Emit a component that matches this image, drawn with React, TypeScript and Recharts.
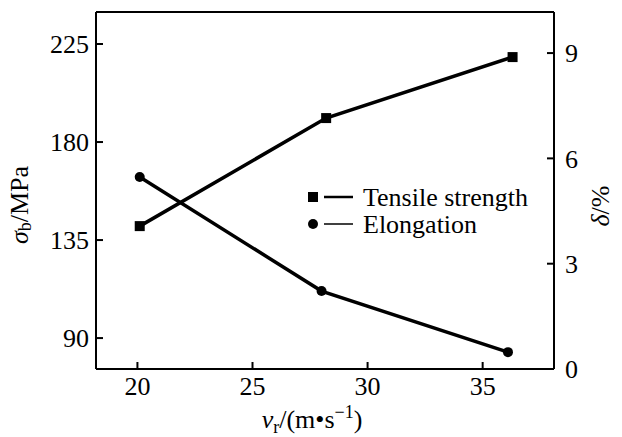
import React from 'react';
import { LineChart, Line, XAxis, YAxis, ReferenceLine, Label } from 'recharts';

const speedTensile = [20.1, 28.2, 36.3];
const tensileStrength = [141.4, 191.0, 219.0];
const speedElongation = [20.1, 28.0, 36.1];
const elongation = [5.47, 2.22, 0.48];

const xTicks = [20, 25, 30, 35];
const leftTicks = [90, 135, 180, 225];
const rightTicks = [0, 3, 6, 9];

const tensileData = speedTensile.map((v, i) => ({ v, s: tensileStrength[i] }));
const elongationData = speedElongation.map((v, i) => ({ v, d: elongation[i] }));

const FONT = '"Liberation Serif", "Times New Roman", serif';
const FS = 26;

// serif tick text, placed where recharts puts it
const SerifTick = ({ x, y, payload, textAnchor, verticalAnchor }: any) => {
  const dy = verticalAnchor === 'start' ? '0.71em' : verticalAnchor === 'end' ? '0' : '0.355em';
  return (
    <text x={x} y={y} dy={dy} textAnchor={textAnchor} fontFamily={FONT} fontSize={FS} fill="#000">
      {payload.value}
    </text>
  );
};

const SquareDot = ({ cx, cy }: any) => (
  <rect x={cx - 5} y={cy - 5} width={10} height={10} fill="#000" />
);
const RoundDot = ({ cx, cy }: any) => <circle cx={cx} cy={cy} r={5} fill="#000" />;

const LeftTitle = () => (
  <text x={19} y={205} transform="rotate(-90, 19, 205)" textAnchor="middle" dominantBaseline="central"
    fontFamily={FONT} fontSize={FS} fill="#000">
    <tspan fontStyle="italic">σ</tspan>
    <tspan fontSize={18} dy={6}>b</tspan>
    <tspan dy={-6}>/MPa</tspan>
  </text>
);

const RightTitle = () => (
  <text x={600} y={206} transform="rotate(-90, 600, 206)" textAnchor="middle" dominantBaseline="central"
    fontFamily={FONT} fontSize={FS} fill="#000">
    <tspan fontStyle="italic">δ</tspan>
    <tspan>/%</tspan>
  </text>
);

const BottomTitle = () => (
  <text x={312} y={428} textAnchor="middle" fontFamily={FONT} fontSize={FS} fill="#000">
    <tspan fontStyle="italic">v</tspan>
    <tspan fontSize={18} dy={5}>r</tspan>
    <tspan dy={-5}>/(m•s</tspan>
    <tspan fontSize={18} dy={-10}>−1</tspan>
    <tspan dy={10}>)</tspan>
  </text>
);

const LegendBox = () => (
  <div style={{ position: 'absolute', left: 305, top: 184, fontFamily: FONT, fontSize: FS, color: '#000', lineHeight: '27px' }}>
    <div style={{ display: 'flex', alignItems: 'center' }}>
      <svg width={58} height={27}>
        <rect x={3} y={8} width={10} height={10} fill="#000" />
        <line x1={19} y1={13} x2={48} y2={13} stroke="#000" strokeWidth={2.5} />
      </svg>
      <span>Tensile strength</span>
    </div>
    <div style={{ display: 'flex', alignItems: 'center' }}>
      <svg width={58} height={27}>
        <circle cx={8} cy={13} r={5} fill="#000" />
        <line x1={19} y1={13} x2={48} y2={13} stroke="#000" strokeWidth={1.5} />
      </svg>
      <span>Elongation</span>
    </div>
  </div>
);

export default function App() {
  return (
    <div style={{ position: 'absolute', left: 0, top: 0, width: 622, height: 437, background: '#fff', fontFamily: FONT }}>
      <LineChart width={622} height={437} margin={{ top: 12, right: 0, bottom: 0, left: 0 }}>
        <XAxis type="number" dataKey="v" domain={[18.2, 38.1]} ticks={xTicks} height={68}
          tick={<SerifTick />} tickSize={-7} tickMargin={15} allowDataOverflow
          axisLine={{ stroke: '#000', strokeWidth: 2 }} tickLine={{ stroke: '#000', strokeWidth: 2 }}>
          <Label content={<BottomTitle />} />
        </XAxis>
        <YAxis yAxisId="left" domain={[75.8, 239.7]} ticks={leftTicks} width={96} allowDataOverflow
          tick={<SerifTick />} tickSize={-7} tickMargin={14}
          axisLine={{ stroke: '#000', strokeWidth: 2 }} tickLine={{ stroke: '#000', strokeWidth: 2 }}>
          <Label content={<LeftTitle />} />
        </YAxis>
        <YAxis yAxisId="right" orientation="right" domain={[0, 10.17]} ticks={rightTicks} width={68} allowDataOverflow
          tick={<SerifTick />} tickSize={-7} tickMargin={18}
          axisLine={{ stroke: '#000', strokeWidth: 2 }} tickLine={{ stroke: '#000', strokeWidth: 2 }}>
          <Label content={<RightTitle />} />
        </YAxis>
        <ReferenceLine yAxisId="left" y={239.7} stroke="#000" strokeWidth={2} ifOverflow="extendDomain" />
        <Line yAxisId="left" data={tensileData} dataKey="s" name="Tensile strength" stroke="#000" strokeWidth={3.5}
          dot={<SquareDot />} activeDot={false} isAnimationActive={false} />
        <Line yAxisId="right" data={elongationData} dataKey="d" name="Elongation" stroke="#000" strokeWidth={3.5}
          dot={<RoundDot />} activeDot={false} isAnimationActive={false} />
      </LineChart>
      <LegendBox />
    </div>
  );
}
